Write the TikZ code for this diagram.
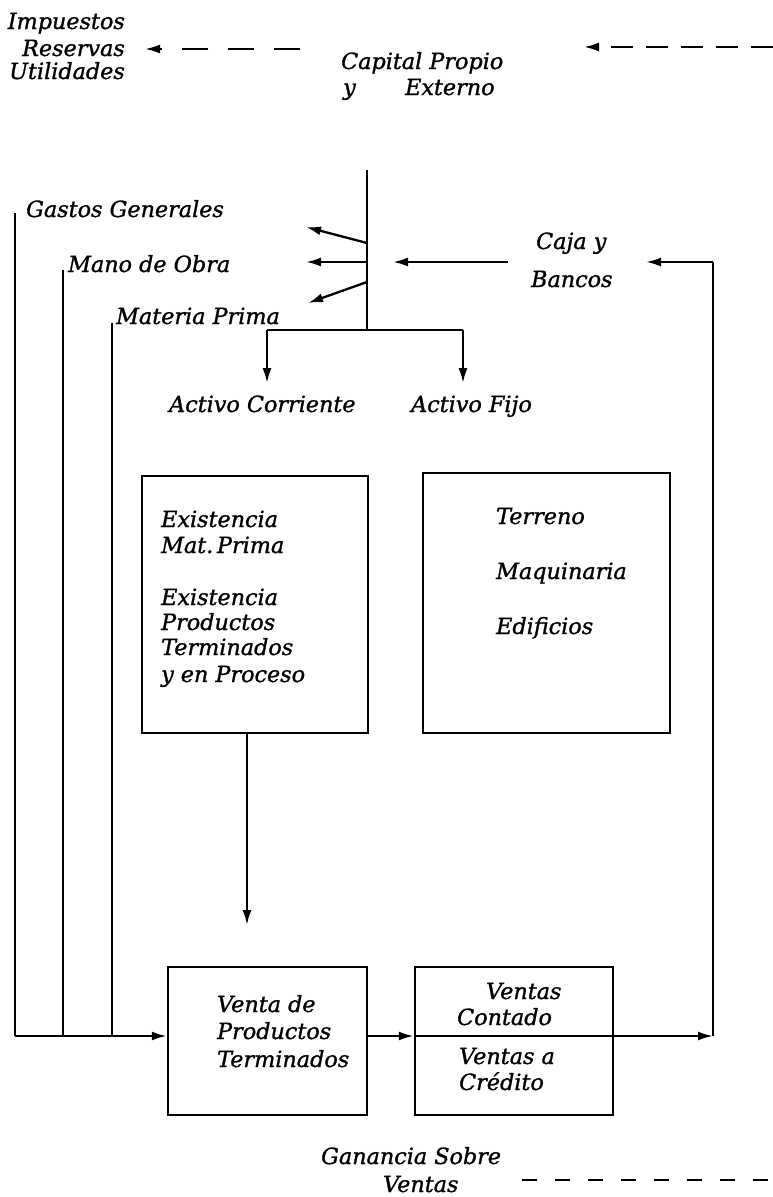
\documentclass[tikz,border=0pt]{standalone}
\usepackage{fontspec}
\setmainfont{DejaVu Serif}[ItalicFeatures={FakeBold=1.2}]
\usetikzlibrary{arrows.meta}
\begin{document}
\begin{tikzpicture}[x=1pt,y=-1pt,line width=2.3pt,
  lbl/.style={font=\fontsize{22.3}{25}\selectfont\itshape,inner sep=0pt,anchor=base west},
  lblr/.style={lbl,anchor=base east},
  boxnode/.style={draw,line width=2.5pt,inner sep=0pt},
  tip/.style={-{Latex[length=15pt,width=9pt]}},
  dshA/.style={dash pattern=on 26pt off 20pt},
  dshB/.style={dash pattern=on 22pt off 13pt},
  dshC/.style={dash pattern=on 15pt off 18pt}]
\useasboundingbox (0,0) rectangle (773,1197);

% --- top texts
\node[lblr] (imp) at (126,29) {Impuestos};
\node[lblr] (res) at (126,56) {Reservas};
\node[lblr] (uti) at (126,79) {Utilidades};
\node[lbl] (cap) at (340,69) {Capital Propio};
\node[lbl] (capy) at (342,95) {y};
\node[lbl] (ext) at (404,95) {Externo};

% --- dashed arrows
\coordinate (d1s) at (300,49); \coordinate (d1t) at (145,49);
\coordinate (d2s) at (773,47); \coordinate (d2t) at (584,47);
\coordinate (d3s) at (522,1180); \coordinate (d3e) at (773,1180);
\draw[tip,dshA] (d1s) -- (d1t);
\draw[tip,dshB] (d2s) -- (d2t);
\draw[dshC] (d3s) -- (d3e);

% --- labels left
\node[lbl] (gas) at (25,217) {Gastos Generales};
\node[lbl] (man) at (67,272) {Mano de Obra};
\node[lbl] (mat) at (115,324) {Materia Prima};
\node[lbl] (acor) at (168,412) {Activo Corriente};
\node[lbl] (afij) at (410,412) {Activo Fijo};
\node[lbl] (caja) at (535,249) {Caja y};
\node[lbl] (banc) at (530,287) {Bancos};

% --- spine
\coordinate (sTop) at (367,170); \coordinate (sBot) at (367,330);
\coordinate (bL) at (267,330); \coordinate (bR) at (463,330);
\coordinate (aL) at (267,383); \coordinate (aR) at (463,383);
\draw (sTop) -- (sBot);
\draw (bL) -- (bR);
\draw[tip] (bL) -- (aL);
\draw[tip] (bR) -- (aR);
\coordinate (s1) at (367,243); \coordinate (t1) at (306,227);
\coordinate (s2) at (367,262); \coordinate (t2) at (306,262);
\coordinate (s3) at (367,282); \coordinate (t3) at (308,303);
\draw[tip] (s1) -- (t1);
\draw[tip] (s2) -- (t2);
\draw[tip] (s3) -- (t3);
\coordinate (c1) at (508,262); \coordinate (c2) at (393,262);
\draw[tip] (c1) -- (c2);

% --- boxes
\node[boxnode,minimum width=226pt,minimum height=257pt] (exist) at (255,604.5) {};
\node[boxnode,minimum width=247pt,minimum height=260pt] (fijo) at (546.5,603) {};
\node[boxnode,minimum width=199pt,minimum height=148pt] (venta) at (267.5,1041) {};
\node[boxnode,minimum width=198pt,minimum height=148pt] (ventas) at (514,1041) {};

% box texts
\node[lbl] (e1) at (160,527) {Existencia};
\node[lbl] (e2) at (160,553) {Mat.\,Prima};
\node[lbl] (e3) at (160,605) {Existencia};
\node[lbl] (e4) at (160,630) {Productos};
\node[lbl] (e5) at (160,655) {Terminados};
\node[lbl] (e6) at (160,682) {y en Proceso};
\node[lbl] (f1) at (495,524) {Terreno};
\node[lbl] (f2) at (495,579) {Maquinaria};
\node[lbl] (f3) at (495,634) {Edificios};
\node[lbl] (v1) at (216,1012) {Venta de};
\node[lbl] (v2) at (216,1039) {Productos};
\node[lbl] (v3) at (216,1067) {Terminados};
\node[lbl] (w1) at (485,999) {Ventas};
\node[lbl] (w2) at (456,1025) {Contado};
\node[lbl] (w3) at (458,1064) {Ventas a};
\node[lbl] (w4) at (458,1090) {Crédito};
\node[lbl] (gan) at (320,1164) {Ganancia Sobre};
\node[lbl] (gan2) at (382,1192) {Ventas};

% --- flows
\coordinate (eA) at (247,733); \coordinate (eB) at (247,925);
\draw[tip] (eA) -- (eB);
\coordinate (fL) at (15,1036);
\coordinate (g1) at (15,213); \coordinate (m1) at (63,270); \coordinate (p1) at (112,323);
\coordinate (m2) at (63,1036); \coordinate (p2) at (112,1036);
\draw (g1) -- (fL);
\draw (m1) -- (m2);
\draw (p1) -- (p2);
\draw[tip] (fL) -- (venta.west |- fL);
\draw[tip] (venta.east |- fL) -- (ventas.west |- fL);
\draw (ventas.west |- fL) -- (ventas.east |- fL);
\coordinate (rB) at (713,1036); \coordinate (rT) at (713,262); \coordinate (rTip) at (646,262);
\draw[tip] (ventas.east |- fL) -- (rB);
\draw (rB) -- (rT);
\draw[tip] (rT) -- (rTip);
\end{tikzpicture}
\end{document}
